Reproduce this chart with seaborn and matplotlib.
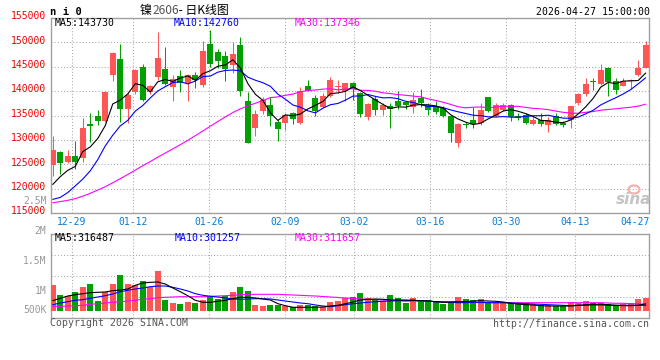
import matplotlib
matplotlib.use("Agg")
import matplotlib.pyplot as plt
from matplotlib.patches import Ellipse
import seaborn as sns
import numpy as np

# ---------------- data ----------------
dates = ["12-24", "12-25", "12-26", "12-29", "12-30", "12-31",
         "01-05", "01-06", "01-07", "01-08", "01-09",
         "01-12", "01-13", "01-14", "01-15", "01-16",
         "01-19", "01-20", "01-21", "01-22", "01-23",
         "01-26", "01-27", "01-28", "01-29", "01-30",
         "02-02", "02-03", "02-04", "02-05", "02-06",
         "02-09", "02-10", "02-11", "02-12", "02-13",
         "02-24", "02-25", "02-26", "02-27",
         "03-02", "03-03", "03-04", "03-05", "03-06",
         "03-09", "03-10", "03-11", "03-12", "03-13",
         "03-16", "03-17", "03-18", "03-19", "03-20",
         "03-23", "03-24", "03-25", "03-26", "03-27",
         "03-30", "03-31", "04-01", "04-02", "04-03",
         "04-07", "04-08", "04-09", "04-10",
         "04-13", "04-14", "04-15", "04-16", "04-17",
         "04-20", "04-21", "04-22", "04-23", "04-24",
         "04-27"]

open_ = [124800, 127500, 125600, 126700, 126400, 133300, 134900, 134000, 143300, 146600,
         136400, 139900, 145000, 139900, 143000, 144600, 140800, 143200, 141600, 143300,
         141300, 149700, 148000, 147200, 145400, 149400, 137900, 132400, 135900, 137100,
         133700, 133400, 135500, 133500, 141100, 138700, 136700, 139100, 140800, 140000,
         141700, 139600, 134700, 138400, 136200, 136900, 138000, 137800, 136700, 138700,
         137100, 136900, 136600, 135000, 129400, 133200, 134200, 133500, 138800, 134900,
         136200, 137100, 134900, 135100, 133200, 134200, 133000, 134900, 133500, 134200,
         137600, 139400, 142100, 141500, 144800, 142000, 141100, 142000, 143400, 144800]
high = [130800, 127800, 128000, 129900, 134600, 135600, 136200, 139950, 148100, 149700,
        139800, 144600, 145600, 141200, 152200, 149100, 143300, 144400, 143500, 144000,
        150200, 152500, 148700, 148200, 150100, 151100, 139800, 136100, 138800, 138800,
        134200, 135400, 135700, 140800, 142200, 139300, 139600, 142900, 142200, 141700,
        141800, 139800, 137500, 139100, 137600, 137600, 140100, 138000, 139800, 140500,
        137600, 138100, 136900, 135200, 133500, 133700, 136700, 137600, 138800, 137600,
        137600, 137400, 135500, 135600, 134900, 135600, 134700, 135600, 133900, 136900,
        139600, 142700, 142700, 145500, 145000, 142700, 142700, 142500, 146400, 150200]
low = [122600, 123100, 125300, 124000, 125600, 129700, 133100, 133800, 142000, 133700,
       133400, 139400, 137900, 139400, 142300, 141200, 137900, 139900, 137900, 140600,
       140800, 145000, 144700, 142000, 143700, 139100, 129400, 130800, 135400, 132800,
       129900, 132000, 133200, 133300, 140000, 134900, 136600, 138900, 139600, 137900,
       138300, 134700, 134200, 135200, 135200, 132400, 136400, 136400, 135600, 136700,
       135200, 135300, 134700, 129600, 128600, 132400, 132400, 133000, 135800, 134700,
       135900, 134000, 134200, 133300, 133000, 132800, 131700, 133000, 132700, 132400,
       137100, 139100, 140300, 141300, 139100, 139400, 141000, 140500, 143200, 144800]
close = [128000, 125400, 126700, 125600, 132500, 132800, 134000, 139900, 147800, 136400,
         139200, 144400, 138200, 141100, 146800, 141500, 142500, 141600, 143300, 142300,
         148300, 145500, 146200, 144600, 147600, 140000, 129400, 135300, 138300, 134900,
         132200, 135100, 134400, 140100, 140100, 135900, 139100, 142300, 140900, 141700,
         140500, 135300, 137400, 136200, 137100, 136400, 136900, 137100, 138300, 137600,
         136200, 135800, 134900, 131500, 133200, 133000, 133300, 136200, 135900, 137100,
         137200, 134700, 134600, 133500, 134200, 133200, 134200, 133200, 133000, 136900,
         139400, 141500, 141900, 144400, 141800, 140300, 142000, 142100, 144800, 149500]

ma5 = [120900, 122500, 123800, 124600, 127640, 128600, 130320, 132960, 137400, 138180,
       139460, 141540, 141200, 139860, 141940, 142400, 142020, 142700, 143140, 142240,
       143600, 144200, 145120, 145380, 146440, 144780, 141560, 139380, 138120, 135580,
       134020, 135160, 134980, 135340, 136380, 137120, 137920, 139500, 139660, 139980,
       140900, 140140, 139160, 138220, 137300, 136480, 136800, 136740, 137160, 137260,
       137220, 137000, 136560, 135200, 134320, 133680, 133180, 133440, 134320, 135100,
       135940, 136220, 135900, 135420, 134840, 134040, 133940, 133660, 133560, 134100,
       135340, 136800, 138540, 140820, 141800, 141580, 142080, 142120, 142200, 143730]
ma10 = [117850, 118250, 119250, 120600, 122000, 123700, 126000, 128800, 131000, 132910,
        134030, 135930, 137080, 138630, 140060, 140930, 141780, 141950, 141500, 142090,
        143000, 143110, 143910, 144260, 144340, 144190, 142880, 142250, 141750, 141010,
        139400, 138360, 137180, 136730, 135980, 135570, 136540, 137240, 137500, 138180,
        139010, 139030, 139330, 138940, 138640, 138690, 138470, 137950, 137690, 137280,
        136850, 136900, 136650, 136180, 135790, 135450, 135090, 135000, 134760, 134710,
        134810, 134700, 134670, 134870, 134970, 134990, 135080, 134780, 134490, 134470,
        134690, 135370, 136100, 137190, 137950, 138660, 139440, 140330, 141510, 142760]
ma30 = [117150, 117400, 117650, 118000, 118500, 119100, 119750, 120450, 121250, 122100,
        122950, 123850, 124750, 125600, 126500, 127350, 128200, 129050, 129950, 130900,
        131850, 132850, 133800, 134750, 135650, 136400, 137000, 137550, 138100, 138700,
        138840, 139160, 139420, 139900, 140150, 140260, 140430, 140510, 140280, 140450,
        140500, 140190, 140170, 140000, 139680, 139510, 139320, 139170, 139010, 138850,
        138450, 138120, 137750, 137310, 136830, 136600, 136730, 136760, 136680, 136750,
        136920, 136900, 136910, 136690, 136490, 136400, 136240, 135940, 135680, 135520,
        135480, 135690, 135840, 136110, 136270, 136400, 136570, 136730, 136950, 137346]

volume = [505000, 405000, 395000, 438000, 485000, 515000, 345000, 438000, 515000, 605000,
          515000, 505000, 545000, 488000, 645000, 355000, 328000, 315000, 338000, 328000,
          355000, 382000, 368000, 395000, 438000, 485000, 445000, 305000, 295000, 305000,
          305000, 295000, 282000, 305000, 305000, 295000, 282000, 338000, 345000, 372000,
          385000, 428000, 372000, 365000, 345000, 405000, 378000, 322000, 372000, 355000,
          355000, 338000, 315000, 332000, 385000, 365000, 355000, 365000, 338000, 338000,
          328000, 328000, 322000, 322000, 315000, 305000, 305000, 295000, 295000, 338000,
          328000, 348000, 322000, 322000, 315000, 305000, 315000, 328000, 365000, 378000]
vma5 = [348000, 372000, 395000, 408000, 418000, 428000, 432000, 435000, 448000, 455000,
        465000, 502000, 525000, 532000, 535000, 515000, 475000, 438000, 398000, 352000,
        332000, 332000, 342000, 352000, 368000, 382000, 382000, 375000, 365000, 355000,
        318000, 298000, 282000, 282000, 282000, 282000, 285000, 295000, 302000, 318000,
        335000, 355000, 362000, 365000, 362000, 355000, 355000, 355000, 352000, 348000,
        345000, 338000, 332000, 335000, 338000, 338000, 345000, 348000, 345000, 342000,
        335000, 322000, 315000, 308000, 305000, 298000, 295000, 295000, 295000, 295000,
        302000, 308000, 312000, 312000, 308000, 302000, 298000, 298000, 302000, 316487]
vma10 = [308000, 325000, 338000, 352000, 358000, 372000, 385000, 398000, 415000, 438000,
         452000, 465000, 475000, 488000, 495000, 495000, 482000, 465000, 445000, 418000,
         402000, 392000, 385000, 375000, 365000, 362000, 365000, 368000, 368000, 365000,
         355000, 345000, 335000, 325000, 318000, 305000, 295000, 288000, 298000, 308000,
         318000, 325000, 332000, 338000, 342000, 345000, 348000, 348000, 352000, 348000,
         345000, 338000, 335000, 332000, 328000, 328000, 332000, 332000, 328000, 328000,
         328000, 325000, 322000, 318000, 315000, 312000, 308000, 305000, 302000, 298000,
         302000, 302000, 305000, 305000, 302000, 302000, 302000, 302000, 302000, 301257]
vma30 = [292000, 292000, 295000, 298000, 302000, 312000, 318000, 325000, 332000, 338000,
         345000, 352000, 362000, 368000, 378000, 382000, 385000, 388000, 388000, 388000,
         388000, 392000, 395000, 398000, 402000, 408000, 412000, 412000, 412000, 412000,
         412000, 408000, 405000, 402000, 398000, 395000, 390000, 385000, 380000, 375000,
         370000, 365000, 362000, 358000, 355000, 352000, 348000, 345000, 342000, 342000,
         342000, 338000, 338000, 335000, 335000, 332000, 332000, 328000, 328000, 328000,
         328000, 328000, 328000, 328000, 328000, 328000, 328000, 328000, 328000, 328000,
         328000, 328000, 328000, 328000, 325000, 322000, 322000, 318000, 318000, 311657]

price_ticks = [115000, 120000, 125000, 130000, 135000, 140000, 145000, 150000, 155000]
vol_tick_labels = ["2.5M", "2M", "1.5M", "1M", "500K"]
date_tick_idx = [3, 11, 21, 31, 40, 50, 60, 69, 79]

title_parts = ["镍", "2606", " - 日K线图"]
symbol_text = "n i 0"
time_text = "2026-04-27 15:00:00"

# ---------------- style ----------------
sns.set_theme(style="white")
plt.rcParams["font.family"] = ["DejaVu Sans Mono", "DejaVu Sans"]
MONO = "DejaVu Sans Mono"
CJK = ["Noto Sans CJK SC", "DejaVu Sans"]
RED = "#ff5555"
GREEN = "#00a000"
GRID = "#a8a8a8"
FRAME = "#a0a0a0"
XLAB = "#0a7ad2"
W, H = 660, 360


def fx(px):
    return px / W


def fy(py):
    return 1 - py / H


fig = plt.figure(figsize=(6.6, 3.6), dpi=100)
fig.patch.set_facecolor("white")
ax = fig.add_axes([fx(51), fy(213.3), fx(598), 195.3 / H])
axv = fig.add_axes([fx(51), fy(318.3), fx(598), 84 / H])

n = len(dates)
x = np.arange(n)
o = np.array(open_, float)
c = np.array(close, float)
hi = np.array(high, float)
lo = np.array(low, float)
up = c >= o
colors = np.where(up, RED, GREEN)

# candles
ax.vlines(x, lo, hi, colors=colors, linewidth=0.75, zorder=2)
ax.bar(x, np.maximum(np.abs(c - o), 220), bottom=np.minimum(o, c), width=0.8,
       color=colors, linewidth=0, zorder=3)
for vals, col in [(ma30, "#ff00ff"), (ma10, "#0000ff"), (ma5, "#000000")]:
    sns.lineplot(x=x, y=vals, ax=ax, color=col, linewidth=0.8, legend=False, zorder=4)

# volume
vbase = 245000
v = np.array(volume, float)
axv.bar(x, v - vbase, bottom=vbase, width=0.8, color=colors, linewidth=0, zorder=3)
for vals, col in [(vma30, "#ff00ff"), (vma10, "#0000ff"), (vma5, "#000000")]:
    sns.lineplot(x=x, y=vals, ax=axv, color=col, linewidth=0.8, legend=False, zorder=4)

# axes setup
xl = (-0.23, 79.44)
tick_pos = [i * 1.0152 - 0.48 for i in date_tick_idx[:-1]]
for a in (ax, axv):
    a.set_xlim(*xl)
    a.set_xticks(tick_pos)
    a.tick_params(axis="x", length=0, labelbottom=False)
    a.grid(True, color=GRID, linestyle=(0, (1, 2)), linewidth=0.75)
    a.set_axisbelow(True)
    a.set_xlabel("")
    a.set_ylabel("")
    a.set_facecolor("white")
    for s in a.spines.values():
        s.set_color(FRAME)
        s.set_linewidth(1.0)
        s.set_visible(True)

ax.set_ylim(115000, 155000)
ax.set_yticks(price_ticks)
ax.set_yticklabels([])
ax.tick_params(axis="y", length=0)
for p in price_ticks:
    ax.annotate(str(p), xy=(0, p), xycoords=("axes fraction", "data"),
                xytext=(-3.3, 1.3), textcoords="offset points", ha="right",
                va="center", color="#ee0000", fontsize=7, family=MONO,
                annotation_clip=False)

axv.set_ylim(172000, 1012000)
axv.set_yticks([382000, 592000, 802000])
axv.set_yticklabels([])
axv.tick_params(axis="y", length=0)

# date labels
for i, pos in zip(date_tick_idx[:-1], tick_pos):
    fig.text(fx(51 + (pos - xl[0]) / (xl[1] - xl[0]) * 598), fy(221.7), dates[i],
             ha="center", va="center", color=XLAB, fontsize=7, family=MONO)
fig.text(fx(649.5), fy(221.7), dates[date_tick_idx[-1]], ha="right", va="center",
         color=XLAB, fontsize=7, family=MONO)

# volume labels (as printed on the original)
for lab, py in zip(vol_tick_labels, [200.7, 230.7, 260.7, 290.7, 310]):
    fig.text(fx(46.5), fy(py), lab, ha="right", va="center", color="#999999",
             fontsize=7, family=MONO)

# headers
fig.text(fx(50.5), fy(12), symbol_text, ha="left", va="center", fontsize=7.6,
         family=MONO, weight="bold", color="black")
t1 = fig.text(fx(140), fy(10.8), title_parts[0], ha="left", va="center",
              fontsize=8.6, family=CJK, color="black")
fig.text(fx(152.5), fy(10.8), title_parts[1], ha="left", va="center",
         fontsize=8.6, family=CJK, color="#555555")
fig.text(fx(176.5), fy(10.8), title_parts[2], ha="left", va="center",
         fontsize=8.6, family=CJK, color="black")
fig.text(fx(649.5), fy(11.7), time_text, ha="right", va="center", fontsize=7.1,
         family=MONO, color="black")

# MA legends
leg = [("MA5:%d" % ma5[-1], "#000000", 55), ("MA10:%d" % ma10[-1], "#0000ff", 173.7),
       ("MA30:%d" % ma30[-1], "#ff00ff", 294.7)]
for t, col, px in leg:
    fig.text(fx(px), fy(23.5), t, ha="left", va="center", fontsize=7.1, family=MONO,
             color=col)
vleg = [("MA5:%d" % vma5[-1], "#000000", 54.3), ("MA10:%d" % vma10[-1], "#0000ff", 175),
        ("MA30:%d" % vma30[-1], "#ff00ff", 294.7)]
for t, col, px in vleg:
    fig.text(fx(px), fy(238.3), t, ha="left", va="center", fontsize=7.1, family=MONO,
             color=col)

# footer
fig.text(fx(50), fy(323.5), "Copyright 2026 SINA.COM", ha="left", va="center",
         fontsize=7.1, family=MONO, color="#555555")
fig.text(fx(649.5), fy(323.8), "http://finance.sina.com.cn", ha="right", va="center",
         fontsize=7.1, family=MONO, color="#555555")

# watermark
fig.text(fx(651), fy(199.5), "sina", ha="right", va="center", fontsize=11,
         family="DejaVu Sans", style="italic", weight="bold", color="#c4c4c4")
fig.patches.append(Ellipse((fx(634), fy(189.5)), 11 / W, 8 / H, transform=fig.transFigure,
                           facecolor="none", edgecolor="#f2b0b0", linewidth=1.6))

fig.savefig("out.png", dpi=100, facecolor="white")
